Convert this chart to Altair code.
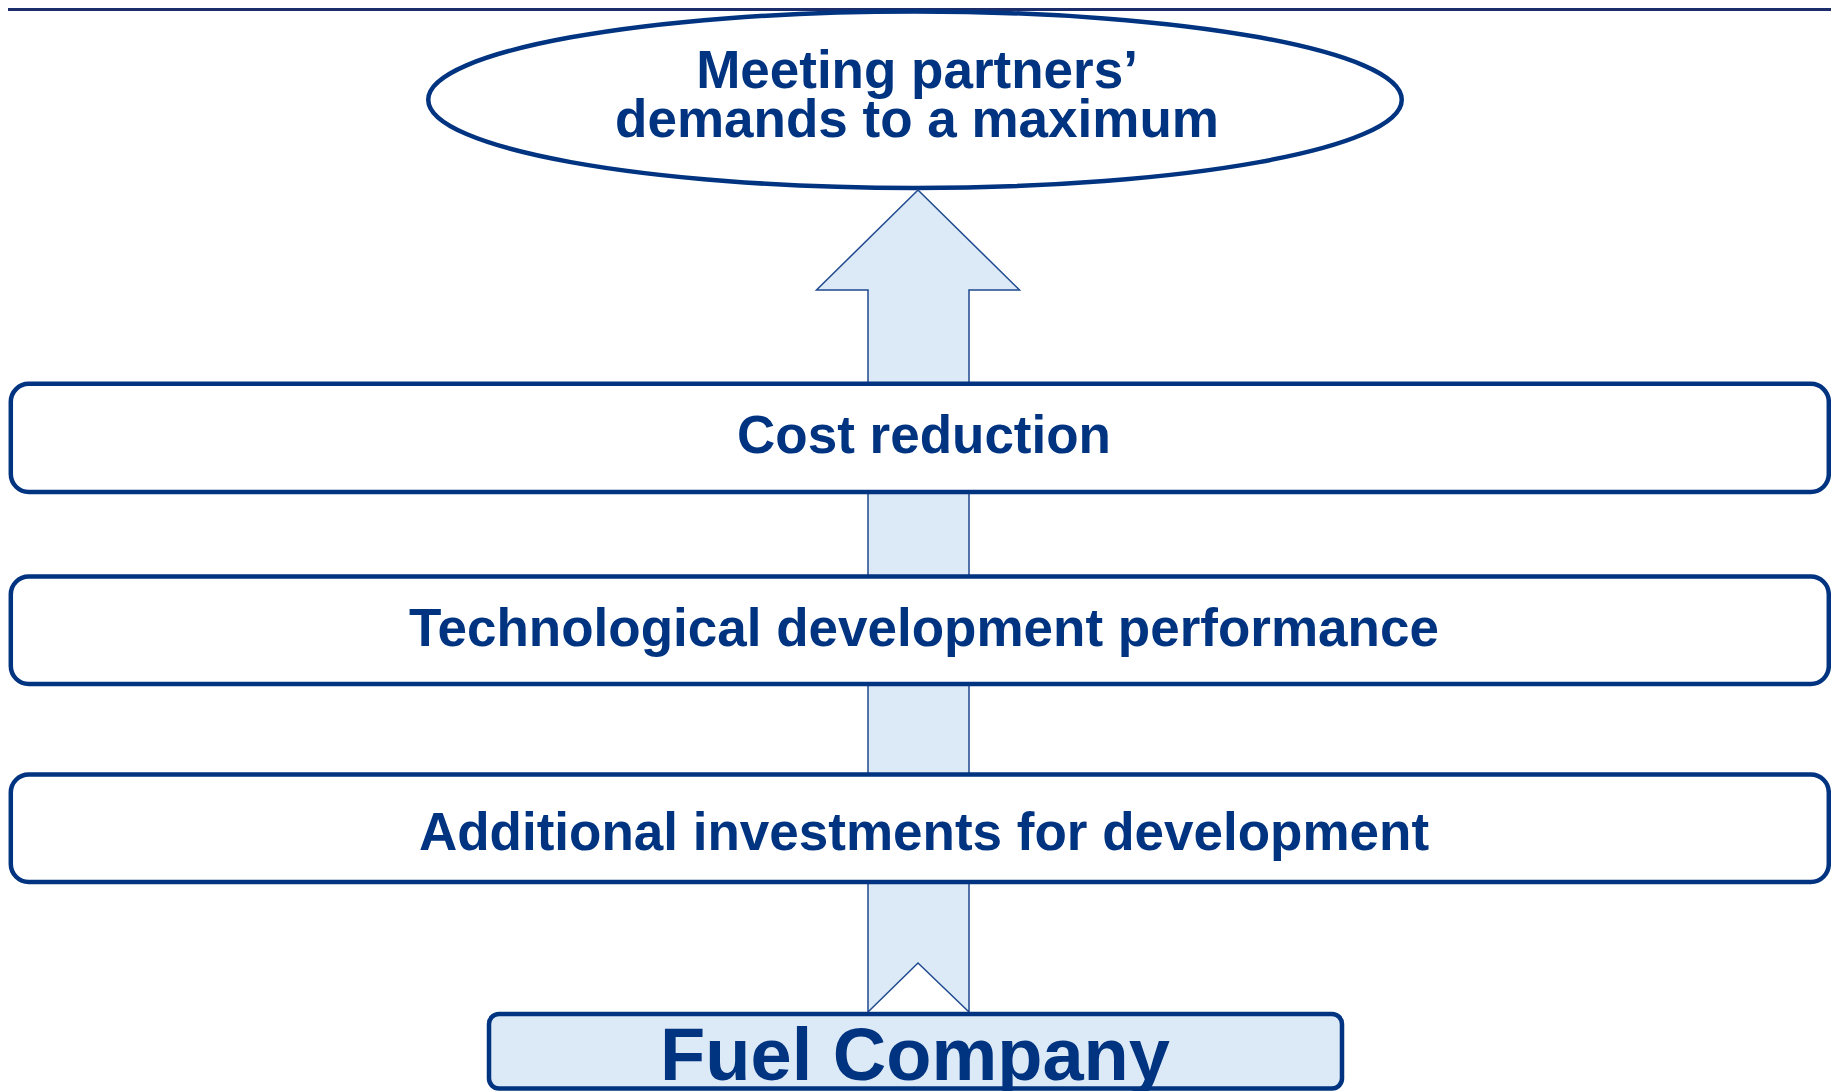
import altair as alt
import pandas as pd

NAVY = "#003380"
LIGHT = "#dce9f6"
ARROW_STROKE = "#1f4a8f"
BAND = "#1c2d6b"
FONT = "Liberation Sans"

# ---- header band (reference pixel coordinates) ----
band_x = [8, 1831]
band_y = [8, 11]

# ---- goal ellipse ----
ellipse_cx = [915]
ellipse_cy = [99.7]
ellipse_w = 973.5
ellipse_h = 176.5
ellipse_lines = ["Meeting partners’", "demands to a maximum"]
ellipse_text_x = [917, 917]
ellipse_text_y = [87.5, 136.7]

# ---- arrow outline (clockwise from tip) ----
arrow_x = [918, 1019.5, 969, 969, 918, 868, 868, 816.5, 918]
arrow_y = [190, 290, 290, 1012, 963, 1012, 290, 290, 190]

# ---- factor boxes ----
box_labels = ["Cost reduction",
              "Technological development performance",
              "Additional investments for development"]
box_x1 = [10.8, 10.8, 10.8]
box_x2 = [1828.8, 1828.8, 1828.8]
box_y1 = [383.8, 576.5, 774.5]
box_y2 = [492.0, 684.0, 882.0]
box_text_x = [924, 924, 924]
box_text_y = [452.5, 645.5, 850.0]

# ---- base box ----
base_label = ["Fuel Company"]
base_x1 = [489]
base_x2 = [1342]
base_y1 = [1014]
base_y2 = [1088.5]
base_text_x = [915]
base_text_y = [1080]

X = alt.Scale(domain=[8, 1831], nice=False, zero=False)
Y = alt.Scale(domain=[8, 1091], reverse=True, nice=False, zero=False)

band_df = pd.DataFrame({"x": [band_x[0]], "x2": [band_x[1]], "y": [band_y[0]], "y2": [band_y[1]]})
band = alt.Chart(band_df).mark_rect(fill=BAND, stroke=None).encode(
    x=alt.X("x:Q", scale=X, axis=None), x2="x2:Q",
    y=alt.Y("y:Q", scale=Y, axis=None), y2="y2:Q")

ell_df = pd.DataFrame({"x": ellipse_cx, "y": ellipse_cy})
ry = ellipse_h / ellipse_w
ell_path = f"M-1,0A1,{ry:.4f},0,1,1,1,0A1,{ry:.4f},0,1,1,-1,0Z"
ellipse = alt.Chart(ell_df).mark_point(
    shape=ell_path, size=ellipse_w ** 2, filled=False, fill="white",
    stroke=NAVY, strokeWidth=4.5, opacity=1).encode(
    x=alt.X("x:Q", scale=X, axis=None),
    y=alt.Y("y:Q", scale=Y, axis=None))

arrow_df = pd.DataFrame({"x": arrow_x, "y": arrow_y, "i": list(range(len(arrow_x)))})
arrow = alt.Chart(arrow_df).mark_line(
    fill=LIGHT, stroke=ARROW_STROKE, strokeWidth=1.5, strokeJoin="miter", strokeCap="square").encode(
    x=alt.X("x:Q", scale=X, axis=None),
    y=alt.Y("y:Q", scale=Y, axis=None),
    order="i:Q")

box_df = pd.DataFrame({"x": box_x1, "x2": box_x2, "y": box_y1, "y2": box_y2})
boxes = alt.Chart(box_df).mark_rect(
    cornerRadius=18, fill="white", stroke=NAVY, strokeWidth=4.5).encode(
    x=alt.X("x:Q", scale=X, axis=None), x2="x2:Q",
    y=alt.Y("y:Q", scale=Y, axis=None), y2="y2:Q")

box_text_df = pd.DataFrame({"x": box_text_x, "y": box_text_y, "t": box_labels})
box_text = alt.Chart(box_text_df).mark_text(
    font=FONT, fontWeight="bold", fontSize=53, color=NAVY,
    align="center", baseline="alphabetic").encode(
    x=alt.X("x:Q", scale=X, axis=None),
    y=alt.Y("y:Q", scale=Y, axis=None),
    text="t:N")

base_df = pd.DataFrame({"x": base_x1, "x2": base_x2, "y": base_y1, "y2": base_y2})
base = alt.Chart(base_df).mark_rect(
    cornerRadius=10, fill=LIGHT, stroke=NAVY, strokeWidth=4.5).encode(
    x=alt.X("x:Q", scale=X, axis=None), x2="x2:Q",
    y=alt.Y("y:Q", scale=Y, axis=None), y2="y2:Q")

base_text_df = pd.DataFrame({"x": base_text_x, "y": base_text_y, "t": base_label})
base_text = alt.Chart(base_text_df).mark_text(
    font=FONT, fontWeight="bold", fontSize=74, color=NAVY,
    align="center", baseline="alphabetic").encode(
    x=alt.X("x:Q", scale=X, axis=None),
    y=alt.Y("y:Q", scale=Y, axis=None),
    text="t:N")

ell_text_df = pd.DataFrame({"x": ellipse_text_x, "y": ellipse_text_y, "t": ellipse_lines})
ell_text = alt.Chart(ell_text_df).mark_text(
    font=FONT, fontWeight="bold", fontSize=53, color=NAVY,
    align="center", baseline="alphabetic").encode(
    x=alt.X("x:Q", scale=X, axis=None),
    y=alt.Y("y:Q", scale=Y, axis=None),
    text="t:N")

chart = alt.layer(band, ellipse, arrow, boxes, box_text, base, base_text, ell_text).properties(
    width=1823, height=1083, padding=0, background="white",
    autosize=alt.AutoSizeParams(type="none")
).configure_view(stroke=None)

chart.save("out.html", embed_options={"renderer": "svg", "actions": False})
